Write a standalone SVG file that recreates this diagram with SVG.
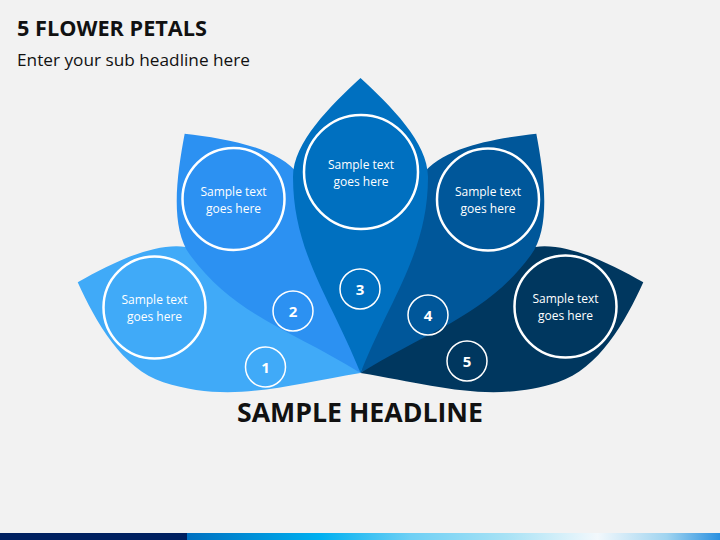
<svg xmlns="http://www.w3.org/2000/svg" width="720" height="540" viewBox="0 0 720 540">
  <defs>
    <linearGradient id="barGrad" x1="0" y1="0" x2="1" y2="0">
      <stop offset="0" stop-color="#0070C0"/>
      <stop offset="0.25" stop-color="#00B0F0"/>
      <stop offset="0.42" stop-color="#6FD0F5"/>
      <stop offset="0.6" stop-color="#A8E2F5"/>
      <stop offset="0.77" stop-color="#F2F8FC"/>
      <stop offset="0.9" stop-color="#A0D4F0"/>
      <stop offset="1" stop-color="#2A90E0"/>
    </linearGradient>
  </defs>
  <style>
    .title { font-family: "Open Sans", "Liberation Sans", sans-serif; font-weight: bold; fill: #111111; }
    .sub { font-family: "Open Sans", "Liberation Sans", sans-serif; fill: #111111; }
    .lbl { font-family: "Open Sans", "Liberation Sans", sans-serif; font-size: 12px; fill: #FFFFFF; text-anchor: middle; }
    .num { font-family: "Open Sans", "Liberation Sans", sans-serif; font-size: 15px; font-weight: bold; fill: #FFFFFF; text-anchor: middle; }
    .ring { fill: none; stroke: #FFFFFF; stroke-width: 2.5; }
    .nring { fill: none; stroke: #FFFFFF; stroke-width: 1.5; }
    .p1 { fill: #40AAF8; }
    .p2 { fill: #2C91F2; }
    .p3 { fill: #0070C0; }
    .p4 { fill: #00579A; }
    .p5 { fill: #00375F; }
  </style>
  <rect x="0" y="0" width="720" height="540" fill="#F2F2F2"/>

  <text class="title" x="17" y="36" font-size="21" textLength="190" lengthAdjust="spacingAndGlyphs">5 FLOWER PETALS</text>
  <text class="sub" x="17" y="66" font-size="17" textLength="233" lengthAdjust="spacingAndGlyphs">Enter your sub headline here</text>

  <g id="petal1">
    <path class="p1" transform="translate(360.5,373) rotate(-72.2)" d="M0,0 C-36,-70 -69,-115 -69,-185 C-69,-228 -32,-268 0,-297 C30,-269 67.5,-231 67.5,-196 C67.5,-121 30,-75 0,0 Z"/>
    <circle class="ring" cx="154.5" cy="307.5" r="51"/>
    <text class="lbl" x="154.5" y="303.5">Sample text</text>
    <text class="lbl" x="154.5" y="320.5">goes here</text>
    <circle class="nring" cx="265.5" cy="367" r="20"/>
    <text class="num" x="265.5" y="372.5">1</text>
  </g>

  <g id="petal5">
    <path class="p5" transform="translate(360.5,373) rotate(72.2)" d="M0,0 C-30,-75 -67.5,-121 -67.5,-196 C-67.5,-231 -30,-269 0,-297 C32,-268 69,-228 69,-185 C69,-115 36,-70 0,0 Z"/>
    <circle class="ring" cx="565.5" cy="306.5" r="51"/>
    <text class="lbl" x="565.5" y="302.5">Sample text</text>
    <text class="lbl" x="565.5" y="319.5">goes here</text>
    <circle class="nring" cx="467" cy="361" r="20"/>
    <text class="num" x="467" y="366.5">5</text>
  </g>

  <g id="petal2">
    <path class="p2" transform="translate(360.5,373) rotate(-36.3)" d="M0,0 C-30,-75 -67.5,-121 -67.5,-196 C-67.5,-231 -30,-269 0,-297 C30,-269 67.5,-231 67.5,-196 C67.5,-121 30,-75 0,0 Z"/>
    <circle class="ring" cx="233.5" cy="199" r="51"/>
    <text class="lbl" x="233.5" y="195.5">Sample text</text>
    <text class="lbl" x="233.5" y="212.5">goes here</text>
    <circle class="nring" cx="293" cy="311" r="20"/>
    <text class="num" x="293" y="316.5">2</text>
  </g>

  <g id="petal4">
    <path class="p4" transform="translate(360.5,373) rotate(36.3)" d="M0,0 C-30,-75 -67.5,-121 -67.5,-196 C-67.5,-231 -30,-269 0,-297 C30,-269 67.5,-231 67.5,-196 C67.5,-121 30,-75 0,0 Z"/>
    <circle class="ring" cx="488" cy="199.5" r="51"/>
    <text class="lbl" x="488" y="196">Sample text</text>
    <text class="lbl" x="488" y="213">goes here</text>
    <circle class="nring" cx="428" cy="315" r="20"/>
    <text class="num" x="428" y="320.5">4</text>
  </g>

  <g id="petal3">
    <path class="p3" transform="translate(360.5,373)" d="M0,0 C-30,-75 -67.5,-121 -67.5,-196 C-67.5,-231 -30,-267 0,-295 C30,-267 67.5,-231 67.5,-196 C67.5,-121 30,-75 0,0 Z"/>
    <circle class="ring" cx="361" cy="172" r="57"/>
    <text class="lbl" x="361" y="169">Sample text</text>
    <text class="lbl" x="361" y="186">goes here</text>
    <circle class="nring" cx="360" cy="289" r="20"/>
    <text class="num" x="360" y="294.5">3</text>
  </g>

  <g id="connectors"></g>

  <text class="title" x="360" y="422" font-size="26.5" text-anchor="middle" textLength="246" lengthAdjust="spacingAndGlyphs">SAMPLE HEADLINE</text>

  <g id="bottom-bar">
    <rect x="0" y="533" width="188" height="7" fill="#002060"/>
    <rect x="187" y="533" width="533" height="7" fill="url(#barGrad)"/>
  </g>
</svg>
